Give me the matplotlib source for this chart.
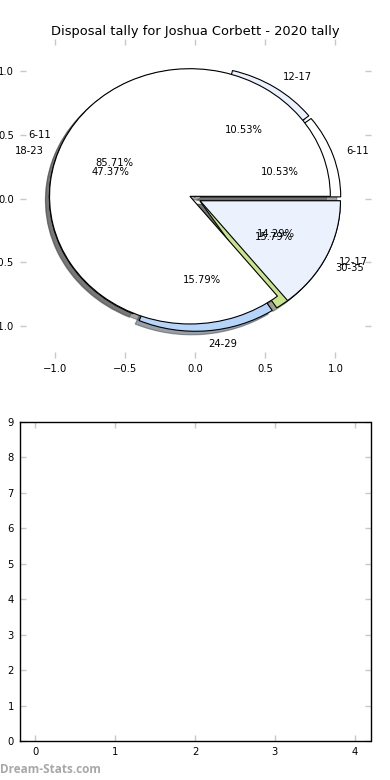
import matplotlib
matplotlib.use('Agg')
import matplotlib.pyplot as plt

### Data
age_groups_1 = ['6-11', '12-17', '18-23', '24-29', '30-35']
counts_1 = [2, 2, 9, 3, 3]

age_groups_2 = ['6-11', '12-17']
counts_2 = [6, 1]

bar_ticks_x = [0, 1, 2, 3, 4]
bar_ticks_y = [0, 1, 2, 3, 4, 5, 6, 7, 8, 9]

colors = ['#ffffff', '#ebf2fd', '#ffffff', '#b5d5fb', '#c9e58b']

plt.rcParams['font.family'] = 'DejaVu Sans'
plt.rcParams['font.size'] = 7.2

### Figure
fig = plt.figure(figsize=(3.9, 7.8), dpi=100)
fig.subplots_adjust(left=0.05, right=0.95, bottom=0.05, top=0.95, hspace=0.2)

ax1 = fig.add_subplot(2, 1, 1)
ax2 = fig.add_subplot(2, 1, 2)

# first pie
ax1.pie(counts_1, labels=age_groups_1, colors=colors[:len(counts_1)],
        explode=[0.04] * len(counts_1), autopct='%.2f%%', shadow=True,
        frame=True, wedgeprops={'edgecolor': 'black', 'linewidth': 0.8})

# second pie on the same axes
ax1.pie(counts_2, labels=age_groups_2, colors=colors[:len(counts_2)],
        explode=[0.04] * len(counts_2), autopct='%.2f%%', shadow=True,
        frame=True, wedgeprops={'edgecolor': 'black', 'linewidth': 0.8})

ax1.set_aspect('auto')
ax1.set_xlim(-1.25, 1.25)
ax1.set_ylim(-1.25, 1.25)
ax1.set_xticks([-1.0, -0.5, 0.0, 0.5, 1.0])
ax1.set_yticks([-1.0, -0.5, 0.0, 0.5, 1.0])
for s in ax1.spines.values():
    s.set_visible(False)
ax1.set_title('Disposal tally for Joshua Corbett - 2020 tally', fontsize=9.4, pad=3)

# empty bottom axes
ax2.set_xlim(-0.2, 4.2)
ax2.set_ylim(0, 9)
ax2.set_xticks(bar_ticks_x)
ax2.set_yticks(bar_ticks_y)
for s in ax2.spines.values():
    s.set_linewidth(1.0)
    s.set_color('black')

for ax in (ax1, ax2):
    ax.tick_params(direction='in', length=4, width=1, color='#c8c8c8',
                   top=True, right=True, labelsize=7.2, pad=4)

fig.text(0.0, 0.005, 'Dream-Stats.com', fontsize=8.5, color='#a8a8a8',
         family='Open Sans', weight='bold', ha='left', va='bottom')

fig.savefig('out.png', dpi=100)
